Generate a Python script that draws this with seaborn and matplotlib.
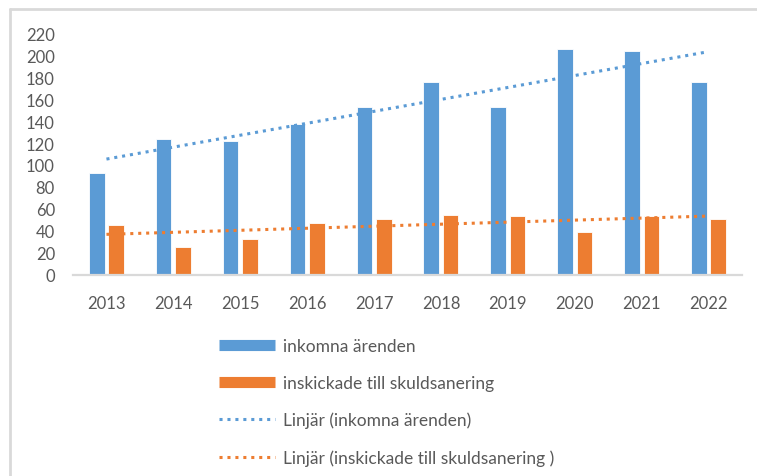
import numpy as np
import pandas as pd
import matplotlib
matplotlib.use("Agg")
import matplotlib.pyplot as plt
from matplotlib.lines import Line2D
import seaborn as sns

years = ["2013", "2014", "2015", "2016", "2017", "2018", "2019", "2020", "2021", "2022"]
inkomna = [93, 124, 122, 137, 153, 176, 153, 206, 204, 176]
inskickade = [45, 25, 32, 47, 51, 54, 53, 39, 53, 51]
series_names = ["inkomna ärenden", "inskickade till skuldsanering"]
trend_names = ["Linjär (inkomna ärenden)", "Linjär (inskickade till skuldsanering )"]
yticks = [0, 20, 40, 60, 80, 100, 120, 140, 160, 180, 200, 220]

BLUE = "#5b9bd5"
ORANGE = "#ed7d31"
GRAY = "#595959"
LINE = "#d9d9d9"

sns.set_theme(style="white")
plt.rcParams["font.family"] = ["Lato", "DejaVu Sans"]

df = pd.DataFrame({
    "year": years * 2,
    "value": inkomna + inskickade,
    "series": [series_names[0]] * len(years) + [series_names[1]] * len(years),
})

W, H = 757, 477
fig = plt.figure(figsize=(W / 100, H / 100), dpi=100)
ax = fig.add_axes([73 / W, 1 - 275.5 / H, (742 - 73) / W, 241 / H])

sns.barplot(data=df, x="year", y="value", hue="series", order=years,
            hue_order=series_names, palette=[BLUE, ORANGE], width=0.58, gap=0.2,
            saturation=1, ax=ax, legend=False, edgecolor="white", linewidth=0.6)

xpos = np.arange(len(years))
for vals, col in [(inkomna, BLUE), (inskickade, ORANGE)]:
    sns.regplot(x=xpos, y=np.array(vals, dtype=float), scatter=False, ci=None,
                truncate=True, ax=ax, color=col,
                line_kws=dict(linestyle=(0, (1, 1.6)), linewidth=2.2))

ax.set_xlim(-0.5, len(years) - 0.5)
ax.set_ylim(0, 220)
ax.set_yticks(yticks)
ax.set_xticks(xpos)
ax.set_xticklabels(years)
ax.set_xlabel("")
ax.set_ylabel("")
for s in ["top", "right", "left"]:
    ax.spines[s].set_visible(False)
ax.spines["bottom"].set_color(LINE)
ax.spines["bottom"].set_linewidth(1.6)
ax.tick_params(axis="both", length=0, labelsize=12, labelcolor=GRAY)
ax.tick_params(axis="x", pad=15)
ax.tick_params(axis="y", pad=13)

# outer chart border (top and left only visible)
fig.add_artist(Line2D([10 / W, 1], [1 - 10 / H, 1 - 10 / H], color=LINE, lw=2, transform=fig.transFigure))
fig.add_artist(Line2D([10 / W, 10 / W], [0, 1 - 10 / H], color=LINE, lw=2, transform=fig.transFigure))

handles = [
    Line2D([], [], color=BLUE, lw=8, solid_capstyle="butt"),
    Line2D([], [], color=ORANGE, lw=8, solid_capstyle="butt"),
    Line2D([], [], color=BLUE, lw=2.2, linestyle=(0, (1, 1.6))),
    Line2D([], [], color=ORANGE, lw=2.2, linestyle=(0, (1, 1.6))),
]
fig.legend(handles, series_names + trend_names, loc="upper left",
           bbox_to_anchor=(219 / W, 1 - 339 / H), frameon=False,
           borderpad=0, borderaxespad=0, handlelength=3.2, handletextpad=0.5,
           labelspacing=1.2, fontsize=12.5, labelcolor=GRAY)

fig.savefig("out.png", dpi=100, facecolor="white")
